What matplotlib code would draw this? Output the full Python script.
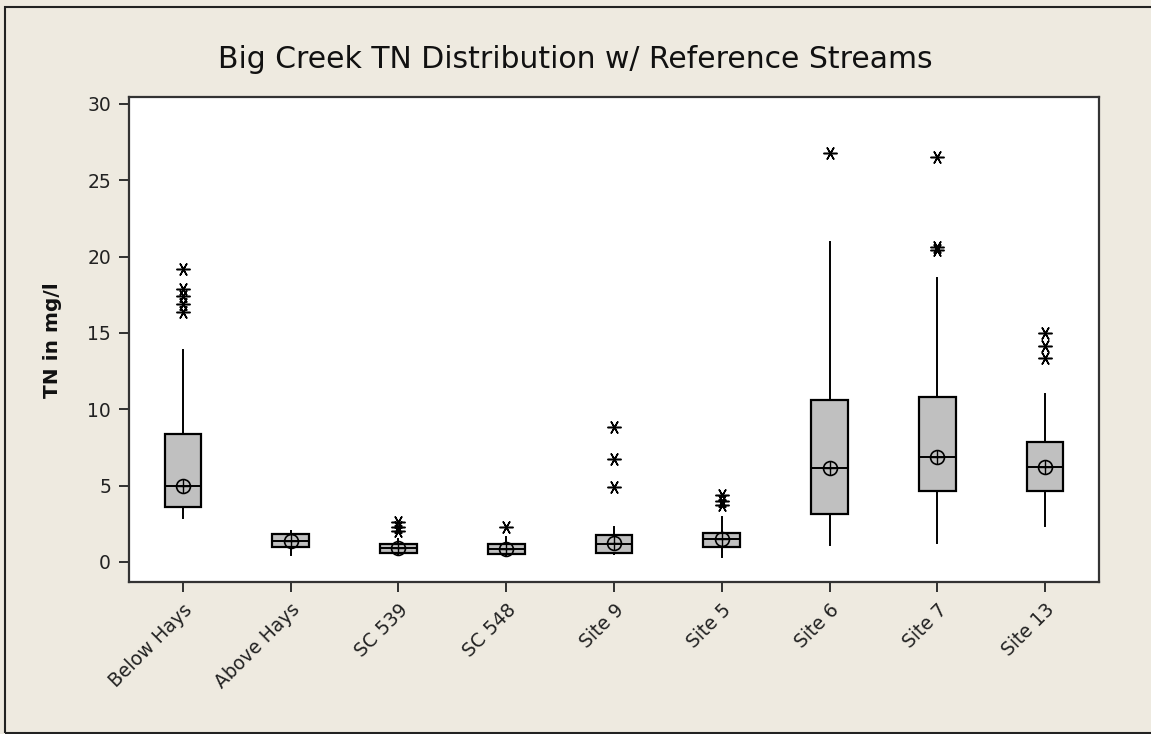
import matplotlib
matplotlib.use("Agg")
import matplotlib.pyplot as plt
from matplotlib.patches import Rectangle

# ---- data ----
sites = ["Below Hays", "Above Hays", "SC 539", "SC 548", "Site 9",
         "Site 5", "Site 6", "Site 7", "Site 13"]
whis_lo = [2.86, 0.46, 0.50, 0.40, 0.52, 0.35, 1.11, 1.22, 2.36]
q1 = [3.62, 1.00, 0.60, 0.50, 0.61, 1.00, 3.12, 4.65, 4.65]
median = [5.00, 1.40, 0.90, 0.83, 1.18, 1.48, 6.13, 6.86, 6.24]
q3 = [8.40, 1.81, 1.18, 1.18, 1.77, 1.92, 10.61, 10.83, 7.88]
whis_hi = [13.88, 2.03, 1.50, 1.66, 2.27, 2.93, 20.98, 18.58, 11.00]
means = [5.00, 1.40, 0.90, 0.85, 1.25, 1.50, 6.13, 6.90, 6.24]
outliers = [
    [19.2, 17.9, 17.4, 16.9, 16.4],
    [],
    [2.6, 2.3, 2.0],
    [2.3],
    [8.86, 6.72, 4.93],
    [4.4, 4.0, 3.7],
    [26.8],
    [26.55, 20.6, 20.45],
    [14.98, 14.15, 13.34],
]
yticks = [0, 5, 10, 15, 20, 25, 30]

BG = "#EEEAE0"

fig = plt.figure(figsize=(11.51, 7.34), dpi=100, facecolor=BG)
ax = fig.add_axes([129 / 1151, 1 - 582 / 734, (1099 - 129) / 1151, (582 - 97) / 734])

stats = []
for i in range(len(sites)):
    stats.append(dict(label=sites[i], whislo=whis_lo[i], q1=q1[i], med=median[i],
                      q3=q3[i], whishi=whis_hi[i], mean=means[i], fliers=outliers[i]))

ax.bxp(stats, positions=range(1, len(sites) + 1), widths=0.34, patch_artist=True,
       showmeans=True, showcaps=False,
       boxprops=dict(facecolor="#C0C0C0", edgecolor="black", linewidth=1.6),
       medianprops=dict(color="black", linewidth=1.4),
       whiskerprops=dict(color="black", linewidth=1.4),
       flierprops=dict(marker=(6, 2, 90), markersize=10, markeredgecolor="black",
                       markeredgewidth=1.1, linestyle="none"),
       meanprops=dict(marker="o", markersize=10, markerfacecolor="none",
                      markeredgecolor="black", markeredgewidth=1.2))
# crosshair inside the mean circle
ax.plot(range(1, len(sites) + 1), means, linestyle="none", marker="+",
        markersize=10, markeredgecolor="black", markeredgewidth=1.0, zorder=5)

ax.set_xlim(0.5, 9.5)
ax.set_ylim(-1.31, 30.45)
ax.set_yticks(yticks)
ax.set_xticks(range(1, len(sites) + 1))
ax.set_xticklabels(sites, rotation=45, ha="right", rotation_mode="anchor",
                   fontsize=13.5)
ax.tick_params(axis="both", direction="out", length=7, width=1.3, color="#222222",
               labelsize=13.5, labelcolor="#222222")
ax.tick_params(axis="x", pad=6)
ax.tick_params(axis="y", pad=6)
for s in ax.spines.values():
    s.set_linewidth(1.6)
    s.set_color("#333333")
ax.set_facecolor("white")

fig.text(0.5, 1 - 60 / 734, "Big Creek TN Distribution w/ Reference Streams",
         ha="center", va="center", fontsize=21.5, color="#111111")
fig.text(52 / 1151, 1 - 340 / 734, "TN in mg/l", rotation=90, ha="center",
         va="center", fontsize=14.5, fontweight="bold", color="#111111")

# outer frame of the window
fig.patches.append(Rectangle((5 / 1151, 1 / 734), 1.2, 1 - 8 / 734,
                             transform=fig.transFigure, fill=False,
                             edgecolor="#222222", linewidth=1.5))

fig.savefig("out.png", dpi=100, facecolor=BG)
